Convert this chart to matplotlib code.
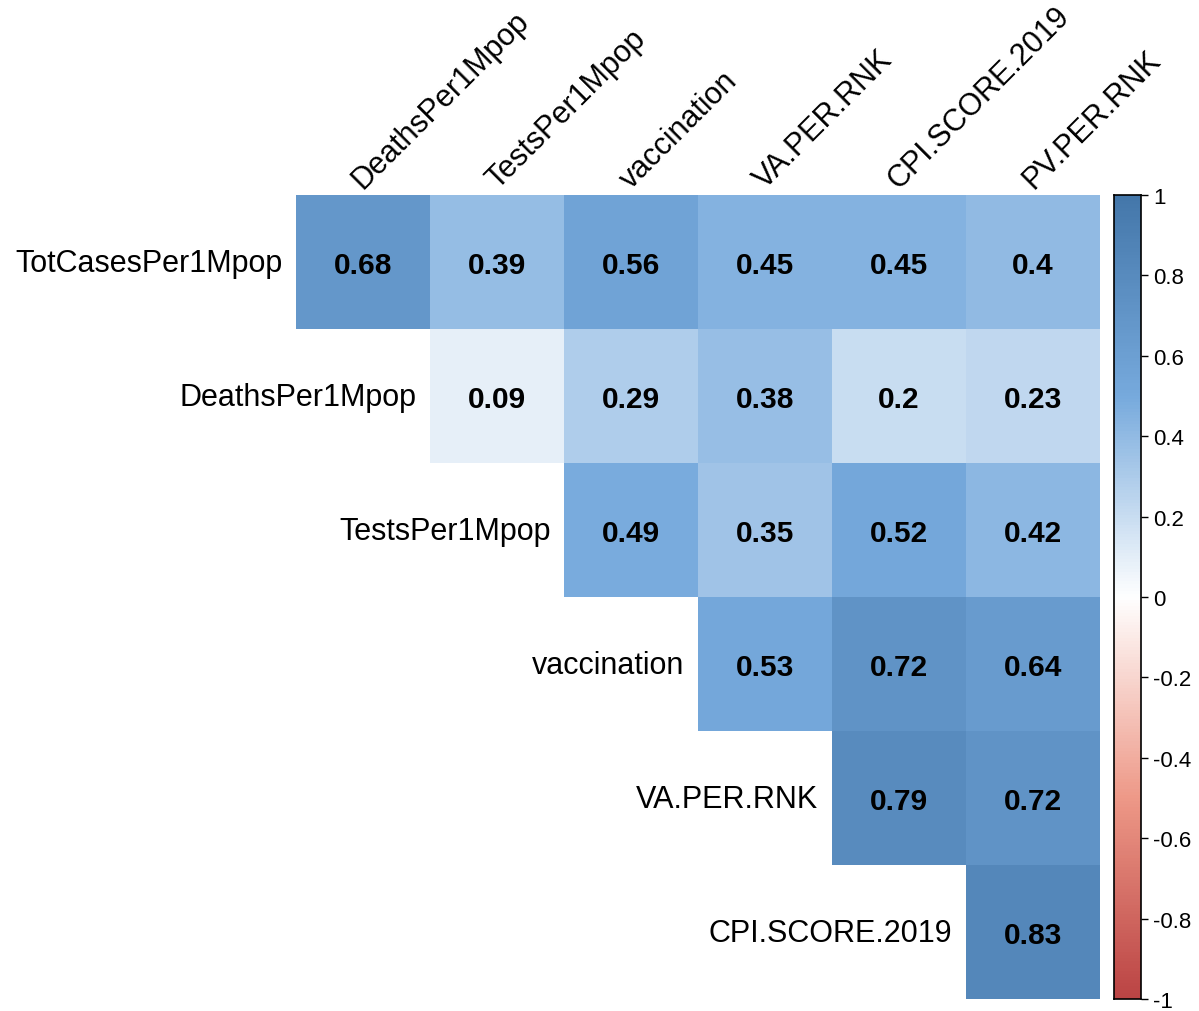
import numpy as np
import matplotlib
matplotlib.use("Agg")
from matplotlib import pyplot as plt
from matplotlib.colors import LinearSegmentedColormap

plt.rcParams['font.family'] = ['Liberation Sans', 'DejaVu Sans']

row_labels = ["TotCasesPer1Mpop", "DeathsPer1Mpop", "TestsPer1Mpop",
              "vaccination", "VA.PER.RNK", "CPI.SCORE.2019"]
col_labels = ["DeathsPer1Mpop", "TestsPer1Mpop", "vaccination",
              "VA.PER.RNK", "CPI.SCORE.2019", "PV.PER.RNK"]

# upper triangle of the correlation matrix, row by row
row0 = [0.68, 0.39, 0.56, 0.45, 0.45, 0.40]
row1 = [0.09, 0.29, 0.38, 0.20, 0.23]
row2 = [0.49, 0.35, 0.52, 0.42]
row3 = [0.53, 0.72, 0.64]
row4 = [0.79, 0.72]
row5 = [0.83]
rows = [row0, row1, row2, row3, row4, row5]

colorbar_ticks = [-1, -0.8, -0.6, -0.4, -0.2, 0, 0.2, 0.4, 0.6, 0.8, 1]

cmap = LinearSegmentedColormap.from_list(
    "corr", ["#BB4444", "#EE9988", "#FFFFFF", "#77AADD", "#4477AA"])
cmap.set_bad((1, 1, 1, 0))

n = len(row_labels)
mat = np.full((n, n), np.nan)
for i, r in enumerate(rows):
    mat[i, i:] = r
mat = np.ma.masked_invalid(mat)

W, H = 1199, 1012
fig = plt.figure(figsize=(W / 100, H / 100), dpi=100)

left, right, top, bottom = 296, 1100, 196, 1000
ax = fig.add_axes([left / W, 1 - bottom / H, (right - left) / W, (bottom - top) / H])
ax.imshow(mat, cmap=cmap, vmin=-1, vmax=1, extent=(0, n, n, 0),
          aspect='auto', interpolation='nearest')
ax.set_xlim(0, n)
ax.set_ylim(n, 0)
ax.axis('off')

for i, r in enumerate(rows):
    for k, v in enumerate(r):
        j = i + k
        ax.text(j + 0.5, i + 0.52, f"{v:g}", ha='center', va='center',
                fontsize=21.5, fontweight='bold', color='black')
    ax.text(i - 0.1, i + 0.51, row_labels[i], ha='right', va='center',
            fontsize=22, color='black', clip_on=False)

for j, lab in enumerate(col_labels):
    ax.text(j + 0.5, -0.045, lab, rotation=45, rotation_mode='anchor',
            ha='left', va='baseline', fontsize=22, color='black', clip_on=False)

# colour legend
cax = fig.add_axes([1114 / W, 1 - 1000 / H, 27 / W, 804 / H])
grad = np.linspace(-1, 1, 256).reshape(-1, 1)
cax.imshow(grad, cmap=cmap, vmin=-1, vmax=1, extent=(0, 1, -1, 1),
           aspect='auto', origin='lower')
cax.set_xlim(0, 1)
cax.set_ylim(-1, 1)
cax.set_xticks([])
cax.yaxis.tick_right()
cax.set_yticks(colorbar_ticks)
cax.set_yticklabels([f"{t:g}" for t in colorbar_ticks])
cax.tick_params(axis='y', length=5, width=1, pad=4, labelsize=16)
for s in cax.spines.values():
    s.set_linewidth(1.2)

fig.savefig("out.png", dpi=100)
